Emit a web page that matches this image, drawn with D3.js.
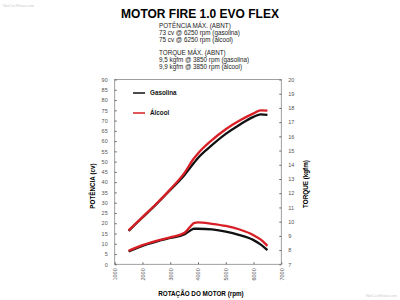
<!DOCTYPE html>
<html><head><meta charset="utf-8">
<script src="https://cdn.jsdelivr.net/npm/d3@7"></script>
<style>body{margin:0;background:#fff}svg{display:block;font-family:"Liberation Sans",Arial,sans-serif}</style>
</head><body><svg id="c" width="400" height="300"></svg>
<script>
const rpm = [1500,2000,2500,3000,3500,3850,4000,4500,5000,5500,6000,6250,6500];
const powerGasolina = [16.3,22.8,29.3,36.2,43.3,49.3,51.8,58,63.5,68,71.8,73,72.8];
const powerAlcool   = [16.5,23,29.5,36.5,44.3,51.5,54,60.5,65.8,70,73.5,75,74.8];
const torqueRpm = [1500,2000,2500,3000,3500,3700,3850,4000,4500,5000,5500,6000,6250,6500];
const torqueGasolina = [7.9,8.3,8.6,8.85,9.1,9.35,9.5,9.5,9.45,9.3,9.05,8.7,8.4,8.0];
const torqueAlcool   = [7.95,8.35,8.65,8.9,9.2,9.6,9.9,9.95,9.85,9.7,9.45,9.05,8.75,8.3];
const xTicks = [1000,2000,3000,4000,5000,6000,7000];
const leftTicks = d3.range(0,91,5);
const rightTicks = d3.range(7,21,1);
const seriesNames = ["Gasolina","Álcool"];
const seriesColors = ["#111","#d91f26"];
const infoLines = [["POTÊNCIA MÁX. (ABNT)","73 cv @ 6250 rpm (gasolina)","75 cv @ 6250 rpm (álcool)"],
                   ["TORQUE MÁX. (ABNT)","9,5 kgfm @ 3850 rpm (gasolina)","9,9 kgfm @ 3850 rpm (álcool)"]];

const svg = d3.select("#c");
const L=114.7,R=281.3,T=79.5,B=264.3;
const x = d3.scaleLinear().domain([1000,7000]).range([L,R]);
const yP = d3.scaleLinear().domain([0,90]).range([B,T]);
const yT = d3.scaleLinear().domain([7,20]).range([B,T]);

svg.append("text").attr("x",3).attr("y",7).attr("font-size",4).attr("fill","#ccc").text("NetCarShow.com");
svg.append("text").attr("x",397).attr("y",297).attr("text-anchor","end").attr("font-size",4).attr("fill","#ccc").text("NetCarShow.com");

svg.append("text").attr("x",200).attr("y",18).attr("text-anchor","middle").attr("font-size",12).attr("font-weight","bold").text("MOTOR FIRE 1.0 EVO FLEX");
infoLines.forEach((g,gi)=>g.forEach((t,i)=>{
  svg.append("text").attr("x",159).attr("y",28+gi*27+i*7).attr("font-size",6.3).attr("fill","#222").text(t);
}));

svg.append("rect").attr("x",L).attr("y",T).attr("width",R-L).attr("height",B-T).attr("fill","none").attr("stroke","#888").attr("stroke-width",0.8);

const axL = svg.append("g").attr("transform",`translate(${L},0)`).call(d3.axisLeft(yP).tickValues(leftTicks).tickSize(-2).tickPadding(7));
const axR = svg.append("g").attr("transform",`translate(${R},0)`).call(d3.axisRight(yT).tickValues(rightTicks).tickSize(-2).tickPadding(7));
const axB = svg.append("g").attr("transform",`translate(0,${B})`).call(d3.axisBottom(x).tickValues(xTicks).tickSize(-2).tickFormat(d3.format("d")));
[axL,axR,axB].forEach(a=>{
  a.select(".domain").remove();
  a.selectAll("line").attr("stroke","#666");
  a.selectAll("text").attr("font-size",5.5).attr("fill","#555").attr("font-family","Liberation Sans, Arial, sans-serif");
});
axB.selectAll("text").attr("transform","rotate(-90)").attr("text-anchor","end").attr("x",-4).attr("y",0).attr("dy","0.35em");

svg.append("text").attr("transform",`translate(95,186) rotate(-90)`).attr("text-anchor","middle").attr("font-size",6.3).attr("font-weight","bold").text("POTÊNCIA (cv)");
svg.append("text").attr("transform",`translate(308,184) rotate(-90)`).attr("text-anchor","middle").attr("font-size",6.3).attr("font-weight","bold").text("TORQUE (kgfm)");
svg.append("text").attr("x",201).attr("y",296).attr("text-anchor","middle").attr("font-size",6.3).attr("font-weight","bold").text("ROTAÇÃO DO MOTOR (rpm)");

const lineP = d3.line().x((d,i)=>x(rpm[i])).y(d=>yP(d)).curve(d3.curveMonotoneX);
const lineT = d3.line().x((d,i)=>x(torqueRpm[i])).y(d=>yT(d)).curve(d3.curveMonotoneX);
[[powerGasolina,torqueGasolina,0],[powerAlcool,torqueAlcool,1]].forEach(([p,t,k])=>{
  svg.append("path").attr("d",lineP(p)).attr("fill","none").attr("stroke",seriesColors[k]).attr("stroke-width",2.3);
  svg.append("path").attr("d",lineT(t)).attr("fill","none").attr("stroke",seriesColors[k]).attr("stroke-width",2.3);
});

seriesNames.forEach((n,i)=>{
  const yy = 93 + i*20;
  svg.append("line").attr("x1",133).attr("x2",145).attr("y1",yy).attr("y2",yy).attr("stroke",seriesColors[i]).attr("stroke-width",1.5);
  svg.append("text").attr("x",150).attr("y",yy+2).attr("font-size",6.3).attr("font-weight","bold").attr("fill","#111").text(n);
});
</script></body></html>
